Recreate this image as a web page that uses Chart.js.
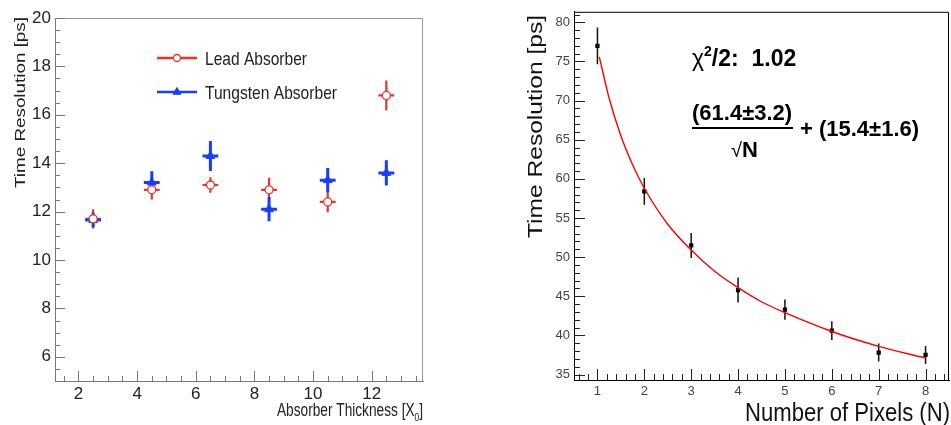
<!DOCTYPE html>
<html lang="en">
<head>
<meta charset="UTF-8">
<title>Time Resolution</title>
<script src="https://cdn.jsdelivr.net/npm/chart.js@4.4.1/dist/chart.umd.min.js"></script>
<style>
  html, body { margin: 0; padding: 0; background: #fff; overflow: hidden; }
  #wrap { position: relative; width: 951px; height: 425px; }
  #absorber { position: absolute; left: 0; top: 0; }
  #pixels { position: absolute; left: 500px; top: 0; }
</style>
</head>
<body>
<div id="wrap">
  <canvas id="absorber" width="440" height="425"></canvas>
  <canvas id="pixels" width="453" height="425"></canvas>
</div>

<script>
// ---- left panel: absorber thickness ----
const thickness = [2.5, 4.5, 6.5, 8.5, 10.5, 12.5];
const thicknessErr = [0.27, 0.27, 0.27, 0.27, 0.27, 0.27];
const leadRes = [11.7, 12.9, 13.1, 12.9, 12.4, 16.8];
const leadErr = [0.4, 0.4, 0.32, 0.5, 0.43, 0.62];
const tungstenRes = [11.65, 13.2, 14.3, 12.1, 13.3, 13.6];
const tungstenErr = [0.3, 0.47, 0.62, 0.5, 0.5, 0.52];
const thicknessTicks = [2, 4, 6, 8, 10, 12];
const resTicksLeft = [6, 8, 10, 12, 14, 16, 18, 20];

// ---- right panel: number of pixels ----
const pixels = [1, 2, 3, 4, 5, 6, 7, 8];
const pixelRes = [77.0, 58.4, 51.5, 45.8, 43.3, 40.6, 37.8, 37.5];
const pixelErr = [2.35, 1.7, 1.6, 1.6, 1.3, 1.2, 1.15, 1.15];
// fitted curve
const fitN = [1.04, 1.25, 1.5, 1.75, 2, 2.5, 3, 3.5, 4, 4.5, 5, 6, 7, 8];
const fitRes = [75.6, 70.3, 65.5, 61.8, 58.8, 54.2, 50.9, 48.2, 46.1, 44.3, 42.9, 40.5, 38.6, 37.1];
const pixelTicks = [1, 2, 3, 4, 5, 6, 7, 8];
const resTicksRight = [35, 40, 45, 50, 55, 60, 65, 70, 75, 80];

const SANS = "'Liberation Sans', Arial, sans-serif";
const RED = '#e8352b';
const BLUE = '#1a3cff';

const pts = (xs, ys) => xs.map((x, i) => ({ x: x, y: ys[i] }));

// text squeezed/stretched to a given length (ROOT output is not square)
function drawParts(ctx, t) {
  ctx.save();
  ctx.fillStyle = t.color || '#222';
  ctx.textBaseline = 'alphabetic';
  let total = 0;
  t.parts.forEach(p => {
    ctx.font = (p.bold ? 'bold ' : '') + (p.size || t.size) + 'px ' + SANS;
    total += ctx.measureText(p.text).width;
  });
  const sx = t.width ? t.width / total : 1;
  ctx.translate(t.x, t.y);
  if (t.rotate) ctx.rotate(-Math.PI / 2);
  ctx.scale(sx, 1);
  let cx = 0;
  t.parts.forEach(p => {
    ctx.font = (p.bold ? 'bold ' : '') + (p.size || t.size) + 'px ' + SANS;
    ctx.fillText(p.text, cx, p.dy || 0);
    cx += ctx.measureText(p.text).width;
  });
  ctx.restore();
}

const textLayer = texts => ({
  id: 'textLayer',
  afterDraw(chart) { texts.forEach(t => drawParts(chart.ctx, t)); }
});

// error bars, drawn under the markers
const errorBars = {
  id: 'errorBars',
  beforeDatasetsDraw(chart) {
    const { ctx, scales: { x, y } } = chart;
    ctx.save();
    chart.data.datasets.forEach(ds => {
      if (!ds.errY) return;
      ctx.strokeStyle = ds.errColor;
      ctx.lineWidth = ds.errWidth;
      ds.data.forEach((p, i) => {
        const px = x.getPixelForValue(p.x);
        const py = y.getPixelForValue(p.y);
        const gap = ds.errGap || 0;
        const top = y.getPixelForValue(p.y + ds.errY[i]);
        const bot = y.getPixelForValue(p.y - ds.errY[i]);
        ctx.beginPath();
        ctx.moveTo(px, top); ctx.lineTo(px, py - gap);
        ctx.moveTo(px, py + gap); ctx.lineTo(px, bot);
        if (ds.errX) {
          const l = x.getPixelForValue(p.x - ds.errX[i]);
          const r = x.getPixelForValue(p.x + ds.errX[i]);
          ctx.moveTo(l, py); ctx.lineTo(px - gap, py);
          ctx.moveTo(px + gap, py); ctx.lineTo(r, py);
        }
        ctx.stroke();
      });
    });
    ctx.restore();
  }
};

// ROOT-like ticks pointing into the frame, plus top/right frame lines
function frameTicks(o) {
  return {
    id: 'frameTicks',
    beforeDatasetsDraw(chart) {
      const { ctx, chartArea: a, scales: { x, y } } = chart;
      ctx.save();
      ctx.lineWidth = 1;
      ctx.strokeStyle = o.frameColor;
      ctx.beginPath();
      ctx.moveTo(a.left, a.top + 0.5); ctx.lineTo(a.right - 0.5, a.top + 0.5); ctx.lineTo(a.right - 0.5, a.bottom);
      ctx.stroke();
      ctx.strokeStyle = o.tickColor;
      ctx.beginPath();
      for (let k = Math.ceil(x.min / o.xMinor); k * o.xMinor <= x.max + 1e-9; k++) {
        const v = k * o.xMinor;
        const major = Math.abs(v / o.xMajor - Math.round(v / o.xMajor)) < 1e-6;
        const px = Math.round(x.getPixelForValue(v)) + 0.5;
        ctx.moveTo(px, a.bottom); ctx.lineTo(px, a.bottom - (major ? o.major : o.minor));
      }
      for (let k = Math.ceil(y.min / o.yMinor); k * o.yMinor <= y.max + 1e-9; k++) {
        const v = k * o.yMinor;
        const major = Math.abs(v / o.yMajor - Math.round(v / o.yMajor)) < 1e-6;
        const py = Math.round(y.getPixelForValue(v)) + 0.5;
        ctx.moveTo(a.left, py); ctx.lineTo(a.left + (major ? o.major : o.minor), py);
      }
      ctx.stroke();
      ctx.restore();
    }
  };
}

// legend of the left panel (line with marker, like ROOT)
const legendBox = {
  id: 'legendBox',
  afterDatasetsDraw(chart) {
    const ctx = chart.ctx;
    const widths = [102, 132];
    chart.data.datasets.forEach((ds, i) => {
      const yy = 58 + i * 34;
      ctx.save();
      ctx.strokeStyle = ds.borderColor;
      ctx.lineWidth = 2.5;
      ctx.beginPath(); ctx.moveTo(157, yy); ctx.lineTo(197, yy); ctx.stroke();
      ctx.fillStyle = ds.backgroundColor;
      ctx.lineWidth = ds.borderWidth;
      Chart.helpers.drawPoint(ctx, { pointStyle: ds.pointStyle, radius: ds.pointRadius - 0.5, borderWidth: ds.borderWidth, rotation: 0 }, 177, yy);
      ctx.restore();
      drawParts(ctx, { x: 205, y: yy + 7, size: 19, width: widths[i], parts: [{ text: ds.label }] });
    });
  }
};

// fit result text of the right panel
const fitText = {
  id: 'fitText',
  afterDatasetsDraw(chart) {
    const ctx = chart.ctx;
    drawParts(ctx, { x: 192, y: 66, size: 23, color: '#000', parts: [
      { text: '\u03c7', size: 23 }, { text: '2', size: 14, bold: true, dy: -10 }, { text: '/2:  1.02', bold: true }] });
    drawParts(ctx, { x: 192, y: 120, size: 22, color: '#000', parts: [{ text: '(61.4\u00b13.2)', bold: true }] });
    ctx.save();
    ctx.lineWidth = 2;
    ctx.beginPath(); ctx.moveTo(192, 128); ctx.lineTo(293, 128); ctx.stroke();
    ctx.restore();
    drawParts(ctx, { x: 231, y: 157, size: 22, color: '#000', parts: [{ text: '\u221a', size: 20 }, { text: 'N', bold: true }] });
    drawParts(ctx, { x: 300, y: 136, size: 22, color: '#000', parts: [{ text: '+ (15.4\u00b11.6)', bold: true }] });
  }
};

new Chart(document.getElementById('absorber'), {
  type: 'scatter',
  data: {
    datasets: [
      {
        label: 'Lead Absorber',
        data: pts(thickness, leadRes),
        errY: leadErr, errX: thicknessErr, errColor: RED, errWidth: 2.2, errGap: 4,
        pointStyle: 'circle', pointRadius: 4, borderWidth: 1.3,
        borderColor: RED, backgroundColor: '#fff'
      },
      {
        label: 'Tungsten Absorber',
        data: pts(thickness, tungstenRes),
        errY: tungstenErr, errX: thicknessErr, errColor: BLUE, errWidth: 3, errGap: 0,
        pointStyle: 'triangle', pointRadius: 5, borderWidth: 1,
        borderColor: BLUE, backgroundColor: BLUE
      }
    ]
  },
  options: {
    responsive: false,
    animation: false,
    layout: { padding: { top: 18, right: 17, left: 0, bottom: 0 } },
    plugins: { legend: { display: false }, tooltip: { enabled: false } },
    scales: {
      x: {
        type: 'linear', min: 1.2, max: 13.75,
        afterBuildTicks: s => { s.ticks = thicknessTicks.map(v => ({ value: v })); },
        afterFit: s => { s.height = 44; },
        grid: { display: false, drawTicks: false },
        border: { color: '#777' },
        ticks: { color: '#222', padding: 3, maxRotation: 0, autoSkip: false, font: { family: SANS, size: 17 } },
        title: { display: false }
      },
      y: {
        min: 5, max: 20,
        afterBuildTicks: s => { s.ticks = resTicksLeft.map(v => ({ value: v })); },
        afterFit: s => { s.width = 55; },
        grid: { display: false, drawTicks: false },
        border: { color: '#777' },
        ticks: { color: '#222', padding: 4, font: { family: SANS, size: 17 } },
        title: { display: false }
      }
    }
  },
  plugins: [
    errorBars,
    frameTicks({ frameColor: '#999', tickColor: '#777', xMinor: 0.5, xMajor: 2, yMinor: 0.5, yMajor: 2, major: 10, minor: 5 }),
    legendBox,
    textLayer([
      { x: 25, y: 188, size: 15, width: 171, rotate: true, parts: [{ text: 'Time Resolution [ps]' }] },
      { x: 277, y: 416, size: 18, width: 146, parts: [{ text: 'Absorber Thickness [X' }, { text: '0', size: 11, dy: 5 }, { text: ']' }] }
    ])
  ]
});

new Chart(document.getElementById('pixels'), {
  type: 'scatter',
  data: {
    datasets: [
      {
        label: 'fit',
        data: pts(fitN, fitRes),
        showLine: true, cubicInterpolationMode: 'monotone',
        borderColor: '#f00', borderWidth: 1.4, pointRadius: 0
      },
      {
        label: 'Time resolution',
        data: pts(pixels, pixelRes),
        errY: pixelErr, errColor: '#111', errWidth: 1.5, errGap: 0,
        pointStyle: 'rect', pointRadius: 3, borderWidth: 0,
        borderColor: '#000', backgroundColor: '#000'
      }
    ]
  },
  options: {
    responsive: false,
    animation: false,
    layout: { padding: { top: 5, right: 1, left: 0, bottom: 0 } },
    plugins: { legend: { display: false }, tooltip: { enabled: false } },
    scales: {
      x: {
        type: 'linear', min: 0.5, max: 8.5,
        afterBuildTicks: s => { s.ticks = pixelTicks.map(v => ({ value: v })); },
        afterFit: s => { s.height = 45; },
        grid: { display: false, drawTicks: false },
        border: { color: '#000' },
        ticks: { color: '#444', padding: 4, maxRotation: 0, autoSkip: false, font: { family: SANS, size: 13 } },
        title: { display: false }
      },
      y: {
        min: 34.3, max: 81.35,
        afterBuildTicks: s => { s.ticks = resTicksRight.map(v => ({ value: v })); },
        afterFit: s => { s.width = 74; },
        grid: { display: false, drawTicks: false },
        border: { color: '#000' },
        ticks: { color: '#444', padding: 4, font: { family: SANS, size: 13 } },
        title: { display: false }
      }
    }
  },
  plugins: [
    errorBars,
    frameTicks({ frameColor: '#000', tickColor: '#222', xMinor: 0.2, xMajor: 1, yMinor: 1, yMajor: 5, major: 11, minor: 6 }),
    fitText,
    textLayer([
      { x: 42, y: 238, size: 21, width: 223, color: '#111', rotate: true, parts: [{ text: 'Time Resolution [ps]' }] },
      { x: 245, y: 421, size: 26, width: 205, color: '#111', parts: [{ text: 'Number of Pixels (N)' }] }
    ])
  ]
});
</script>
</body>
</html>
